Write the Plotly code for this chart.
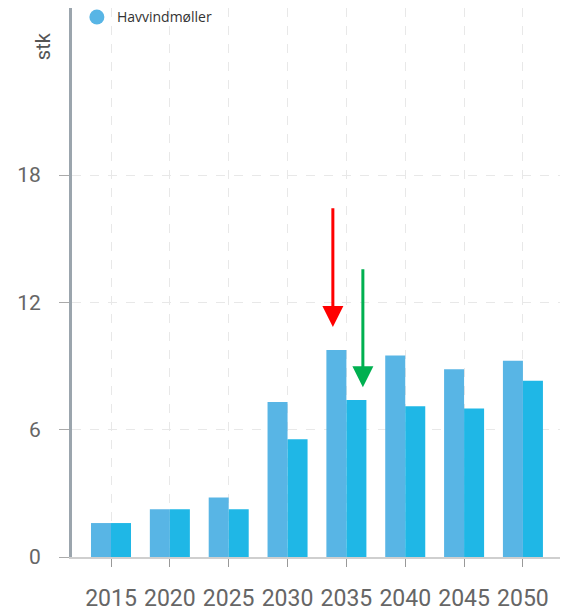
import plotly.graph_objects as go

years = ["2015", "2020", "2025", "2030", "2035", "2040", "2045", "2050"]
series_a = [1.6, 2.25, 2.8, 7.3, 9.75, 9.5, 8.85, 9.25]
series_b = [1.6, 2.25, 2.25, 5.55, 7.4, 7.1, 7.0, 8.3]
legend_name = "Havvindmøller"
y_ticks = [0, 6, 12, 18]

color_a = "#58b5e5"
color_b = "#1fb7e6"

fig = go.Figure()
fig.add_trace(go.Bar(x=years, y=series_a, marker=dict(color=color_a, line=dict(width=0)),
                     showlegend=False))
fig.add_trace(go.Bar(x=years, y=series_b, marker=dict(color=color_b, line=dict(width=0)),
                     showlegend=False))
fig.add_trace(go.Scatter(x=[None], y=[None], mode="markers", name=legend_name,
                         marker=dict(color=color_a, size=15, symbol="circle")))

fig.update_layout(
    width=567, height=603,
    margin=dict(l=64, r=15, t=0, b=54, autoexpand=False),
    paper_bgcolor="white", plot_bgcolor="white",
    barmode="group", bargap=0.32, bargroupgap=0,
    font=dict(family="Roboto", color="#666"),
    legend=dict(x=0.01, y=1.012, xanchor="left", yanchor="top",
                font=dict(family="Open Sans", size=14, color="#333"),
                bgcolor="rgba(0,0,0,0)", itemwidth=30, tracegroupgap=0),
    xaxis=dict(
        type="category", range=[-0.663, 7.63], automargin=False,
        showline=True, linecolor="#cfcfcf", linewidth=2,
        ticks="outside", ticklen=8, tickcolor="#999", tickwidth=1,
        tickfont=dict(size=23, color="#666"), ticklabelstandoff=11,
        showgrid=True, gridcolor="#e8e8e8", griddash="dash", gridwidth=1,
        zeroline=False,
    ),
    yaxis=dict(
        range=[0, 25.87], tickvals=y_ticks, automargin=False,
        showline=True, linecolor="#9ba5ad", linewidth=3,
        ticks="outside", ticklen=10, tickcolor="#aaa", tickwidth=1,
        tickfont=dict(size=21, color="#666"), ticklabelstandoff=14,
        showgrid=True, gridcolor="#e8e8e8", griddash="dash", gridwidth=1,
        zeroline=False,
    ),
)

fig.add_annotation(text="stk", xref="paper", yref="paper", x=-0.058, y=0.93,
                   textangle=-90, showarrow=False, font=dict(size=20, color="#555"),
                   xanchor="center", yanchor="middle")

fig.add_annotation(x=3.77, y=10.84, ax=3.77, ay=16.5, xref="x", yref="y",
                   axref="x", ayref="y", showarrow=True, arrowhead=2,
                   arrowsize=1.4, arrowwidth=3, arrowcolor="#ff0000", text="")
fig.add_annotation(x=4.28, y=8.0, ax=4.28, ay=13.63, xref="x", yref="y",
                   axref="x", ayref="y", showarrow=True, arrowhead=2,
                   arrowsize=1.4, arrowwidth=3, arrowcolor="#00b050", text="")

fig.write_html("out.html")
